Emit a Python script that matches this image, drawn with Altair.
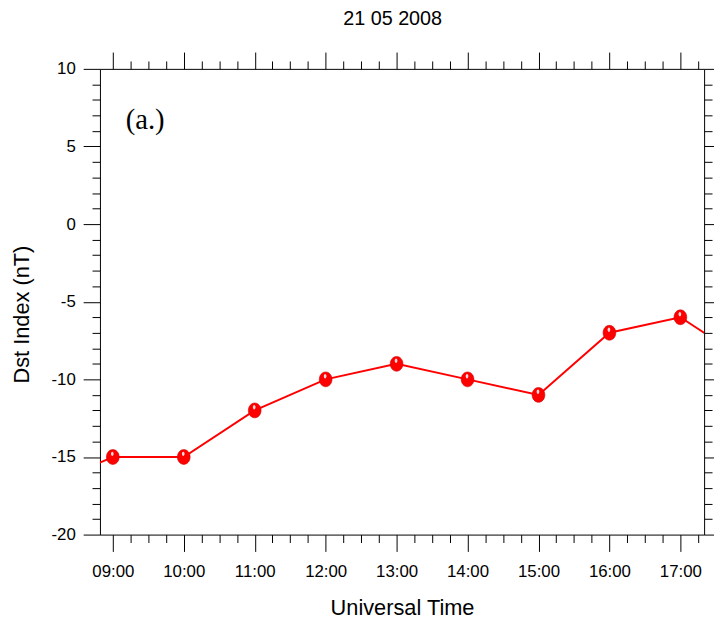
import altair as alt
import pandas as pd

# ---- data ----
hours = [8, 9, 10, 11, 12, 13, 14, 15, 16, 17, 18]
dst = [-17, -15, -15, -12, -10, -9, -10, -11, -7, -6, -9]
title_text = "21 05 2008"
panel_label = "(a.)"
x_title = "Universal Time"
y_title = "Dst Index (nT)"

df = pd.DataFrame({"hour": hours, "dst": dst})

X_DOMAIN = [8.8188, 17.3345]
Y_DOMAIN = [-20, 10]
W, H = 611, 471

x_ticks = [9 + 0.25 * i for i in range(34)]
y_ticks = list(range(-20, 11))

MAJ_X = "datum.value % 1 === 0"
MAJ_Y = "datum.value % 5 === 0"
FONT = "Liberation Sans"

xscale = alt.Scale(domain=X_DOMAIN, nice=False, zero=False)
yscale = alt.Scale(domain=Y_DOMAIN, nice=False, zero=False)

x_label_expr = "datum.value % 1 === 0 ? (datum.value < 10 ? '0' : '') + datum.value + ':00' : ''"
y_label_expr = "datum.value % 5 === 0 ? '' + datum.value : ''"


def x_axis(orient, labels):
    kw = dict(
        orient=orient, values=x_ticks, grid=False,
        tickSize={"condition": {"test": MAJ_X, "value": 17}, "value": 8},
        domainColor="black", tickColor="black", tickWidth=1, domainWidth=1,
    )
    if labels:
        kw.update(labelExpr=x_label_expr, labelFont=FONT, labelFontSize=17,
                  labelColor="black", labelPadding=12, labelFlush=False,
                  labelOverlap=False, title=x_title, titleFont=FONT,
                  titleFontSize=22, titleFontWeight="normal", titleColor="black",
                  titleX=W / 2, titleY=74, titleBaseline="middle",
                  titleAlign="center")
    else:
        kw.update(labels=False, title=None)
    return alt.Axis(**kw)


def y_axis(orient, labels):
    kw = dict(
        orient=orient, values=y_ticks, grid=False,
        tickSize={"condition": {"test": MAJ_Y, "value": 17}, "value": 8},
        domainColor="black", tickColor="black", tickWidth=1, domainWidth=1,
    )
    if labels:
        kw.update(labelExpr=y_label_expr, labelFont=FONT, labelFontSize=17,
                  labelColor="black", labelPadding=8, labelFlush=False,
                  labelOverlap=False, labelBaseline="middle",
                  title=y_title, titleFont=FONT, titleFontSize=22,
                  titleFontWeight="normal", titleColor="black",
                  titleX=-79, titleY=248, titleAngle=270,
                  titleBaseline="middle", titleAlign="center")
    else:
        kw.update(labels=False, title=None)
    return alt.Axis(**kw)


base = alt.Chart(df)

line = base.mark_line(color="#ff0000", strokeWidth=2, clip=True).encode(
    x=alt.X("hour:Q", scale=xscale, axis=x_axis("bottom", True)),
    y=alt.Y("dst:Q", scale=yscale, axis=y_axis("left", True)),
)

ellipse = "M-0.857,0A0.857,1,0,1,0,0.857,0A0.857,1,0,1,0,-0.857,0Z"
shine = "M-0.25,-0.42A0.18,0.3,0,1,0,0.11,-0.42A0.18,0.3,0,1,0,-0.25,-0.42Z"

pts = base.mark_point(shape=ellipse, size=225, filled=True, fill="#ff0000",
                      stroke="#d00000", strokeWidth=0.6, opacity=1,
                      clip=True).encode(
    x=alt.X("hour:Q", scale=xscale, axis=x_axis("top", False)),
    y=alt.Y("dst:Q", scale=yscale, axis=y_axis("right", False)),
)

hl = base.mark_point(shape=shine, size=225, filled=True, fill="white",
                     strokeWidth=0, opacity=0.85, clip=True).encode(
    x=alt.X("hour:Q", scale=xscale, axis=None),
    y=alt.Y("dst:Q", scale=yscale, axis=None),
)

title_df = pd.DataFrame({"t": [title_text]})
title = alt.Chart(title_df).mark_text(
    font=FONT, fontSize=20, color="black", align="center", baseline="alphabetic"
).encode(x=alt.value(296), y=alt.value(-44), text="t:N")

lab_df = pd.DataFrame({"t": [panel_label]})
lab = alt.Chart(lab_df).mark_text(
    font="Liberation Serif", fontSize=29, color="black", align="left",
    baseline="alphabetic"
).encode(x=alt.value(26), y=alt.value(61), text="t:N")

chart = alt.layer(line, pts, hl, title, lab).resolve_axis(
    x="independent", y="independent"
).properties(
    width=W, height=H,
    autosize=alt.AutoSizeParams(type="none"),
    padding={"left": 93, "top": 58, "right": 10, "bottom": 100},
).configure_view(stroke=None)

chart.save("out.html", embed_options={"renderer": "svg", "actions": False})
